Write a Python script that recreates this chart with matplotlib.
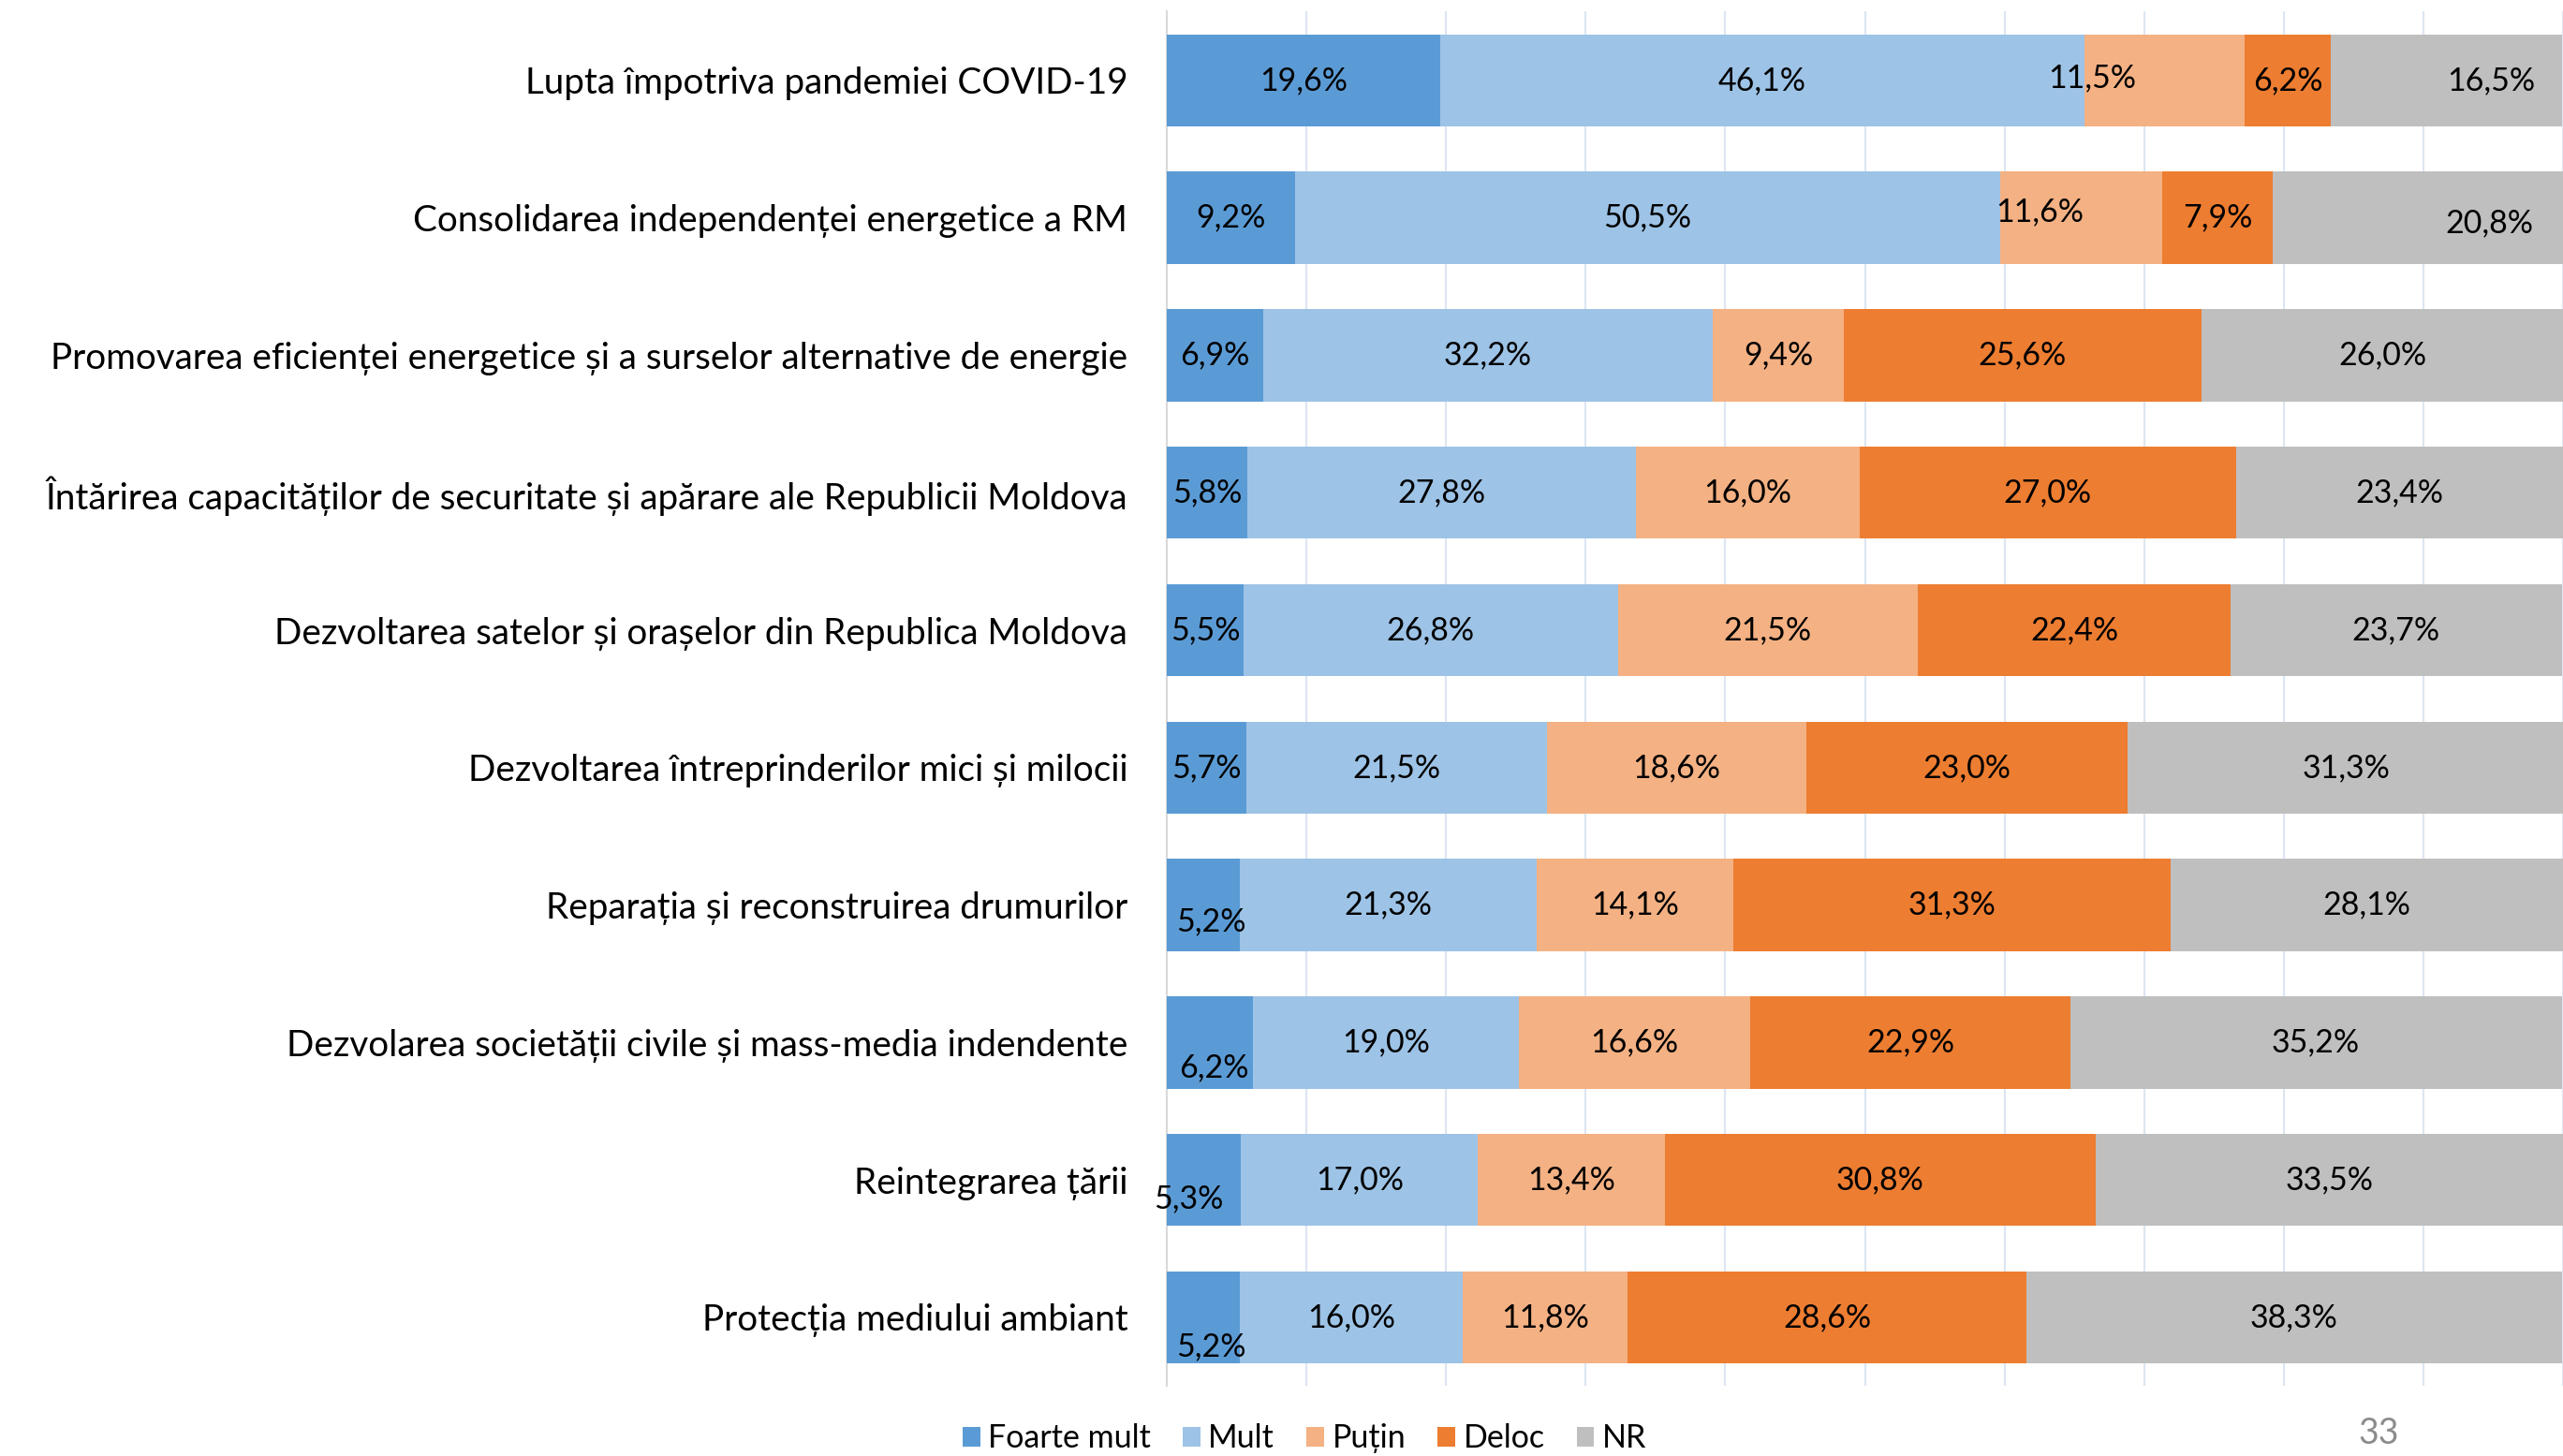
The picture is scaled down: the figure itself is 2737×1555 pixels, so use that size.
import matplotlib.pyplot as plt
import numpy as np

categories = [
    "Lupta împotriva pandemiei COVID-19",
    "Consolidarea independenței energetice a RM",
    "Promovarea eficienței energetice și a surselor alternative de energie",
    "Întărirea capacităților de securitate și apărare ale Republicii Moldova",
    "Dezvoltarea satelor și orașelor din Republica Moldova",
    "Dezvoltarea întreprinderilor mici și milocii",
    "Reparația și reconstruirea drumurilor",
    "Dezvolarea societății civile și mass-media indendente",
    "Reintegrarea țării",
    "Protecția mediului ambiant",
]
series_names = ["Foarte mult", "Mult", "Puțin", "Deloc", "NR"]
foarte_mult = [19.6, 9.2, 6.9, 5.8, 5.5, 5.7, 5.2, 6.2, 5.3, 5.2]
mult = [46.1, 50.5, 32.2, 27.8, 26.8, 21.5, 21.3, 19.0, 17.0, 16.0]
putin = [11.5, 11.6, 9.4, 16.0, 21.5, 18.6, 14.1, 16.6, 13.4, 11.8]
deloc = [6.2, 7.9, 25.6, 27.0, 22.4, 23.0, 31.3, 22.9, 30.8, 28.6]
nr = [16.5, 20.8, 26.0, 23.4, 23.7, 31.3, 28.1, 35.2, 33.5, 38.3]

colors = ["#5B9BD5", "#9DC3E6", "#F4B183", "#ED7D31", "#BFBFBF"]

# manual label nudges (row, series) -> (dx in %, dy in rows), as in the original slide
label_nudge = {
    (0, 2): (-5.2, -0.02),
    (1, 2): (-3.0, -0.04),
    (0, 4): (3.2, 0.0),
    (1, 4): (5.1, 0.04),
    (6, 0): (0.6, 0.12),
    (7, 0): (0.3, 0.18),
    (8, 0): (-1.1, 0.14),
    (9, 0): (0.6, 0.21),
}

plt.rcParams["font.family"] = ["Lato", "DejaVu Sans"]

fig = plt.figure(figsize=(27.37, 15.55), dpi=100)
ax = fig.add_axes([1246 / 2737, 0.048, 1 - 1246 / 2737, 0.944])

y = np.arange(len(categories))
values = [foarte_mult, mult, putin, deloc, nr]
left = np.zeros(len(categories))
for si, (name, vals, col) in enumerate(zip(series_names, values, colors)):
    vals = np.array(vals)
    ax.barh(y, vals, left=left, height=0.67, color=col, label=name, zorder=3)
    for ri, v in enumerate(vals):
        dx, dy = label_nudge.get((ri, si), (0, 0))
        ax.text(left[ri] + v / 2 + dx, y[ri] + dy, f"{v:.1f}%".replace(".", ","),
                ha="center", va="center", fontsize=24.5, color="black", zorder=4)
    left += vals

ax.set_xlim(0, 99.6)
ax.set_ylim(9.5, -0.5)
ax.set_xticks(np.arange(0, 101, 10))
ax.xaxis.grid(True, color="#DCE6F2", linewidth=1.5, zorder=0)
ax.tick_params(axis="x", length=0, labelbottom=False)
ax.set_yticks(y)
ax.set_yticklabels(categories, fontsize=27.8)
ax.tick_params(axis="y", length=0, pad=30)
for s in ["top", "right", "bottom"]:
    ax.spines[s].set_visible(False)
ax.spines["left"].set_color("#D9D9D9")
ax.spines["left"].set_linewidth(1.5)

fig.legend(loc="center", bbox_to_anchor=(0.509, 0.012), ncol=5, frameon=False,
           fontsize=24.5, handlelength=0.55, handleheight=0.55, handletextpad=0.25,
           columnspacing=1.0)

fig.text(2540 / 2737, 1 - 1531 / 1555, "33", fontsize=27, color="#8C8C8C",
         ha="center", va="center")

fig.savefig("out.png", dpi=100)
